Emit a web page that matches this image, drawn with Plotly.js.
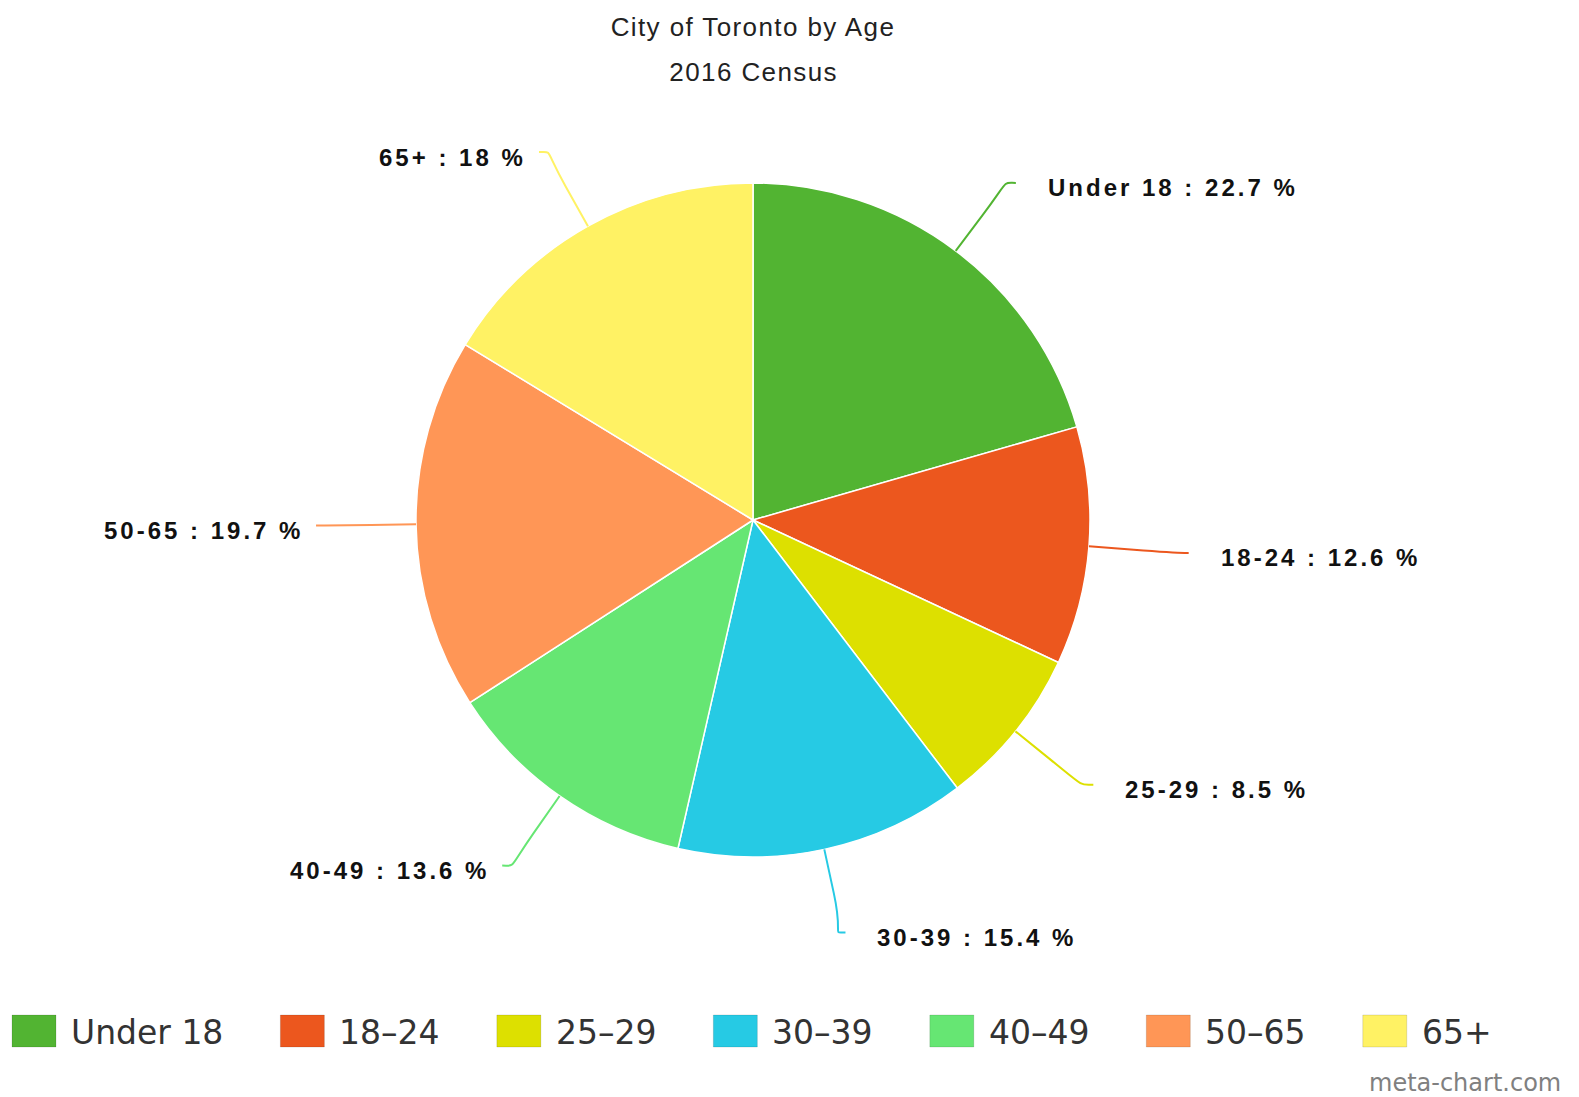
<!DOCTYPE html>
<html>
<head>
<meta charset="utf-8">
<script src="https://cdn.plot.ly/plotly-3.0.1.min.js"></script>
<style>
html, body { margin: 0; padding: 0; background: #ffffff; }
#chart { width: 1579px; height: 1097px; }
.gtitle { letter-spacing: 1.4px; }
.annotation[data-index="0"] .annotation-text,
.annotation[data-index="1"] .annotation-text,
.annotation[data-index="2"] .annotation-text,
.annotation[data-index="3"] .annotation-text,
.annotation[data-index="4"] .annotation-text,
.annotation[data-index="5"] .annotation-text,
.annotation[data-index="6"] .annotation-text { letter-spacing: 3px; }
.annotation[data-index="7"] .annotation-text { letter-spacing: 1.4px; }
</style>
</head>
<body>
<div id="chart"></div>
<script>
// ---- data ----
const categories = ['Under 18', '18-24', '25-29', '30-39', '40-49', '50-65', '65+'];
const legendLabels = ['Under 18', '18–24', '25–29', '30–39', '40–49', '50–65', '65+'];
const values = [22.7, 12.6, 8.5, 15.4, 13.6, 19.7, 18];
const colors = ['#52b432', '#ec571e', '#dde000', '#26cae4', '#66e673', '#ff9656', '#fff264'];
const titleText = 'City of Toronto by Age';
const subtitleText = '2016 Census';
const watermark = 'meta-chart.com';

// ---- layout constants ----
const W = 1579, H = 1097;
const CX = 753, CY = 520, R = 337;
const RX = 437, RY = 422, BREAK = 45, LS = 3;
const px = x => x / W;
const py = y => 1 - y / H;

const total = values.reduce((a, b) => a + b, 0);
const shapes = [];
const annotations = [];

// pie labels with connectors
let cum = 0;
values.forEach((v, i) => {
  const mid = (cum + v / 2) / total * 2 * Math.PI;
  cum += v;
  const ux = Math.sin(mid), uy = -Math.cos(mid);
  const touch = [CX + R * ux, CY + R * uy];
  const brk = [CX + (R + BREAK) * ux, CY + (R + BREAK) * uy];
  const c2 = [2 * brk[0] - touch[0], 2 * brk[1] - touch[1]];
  const lab = [CX + RX * ux, CY + RY * uy];
  const right = ux >= 0;
  const c1 = [lab[0] + (right ? -14 : 14), lab[1]];
  const P = p => px(p[0]) + ',' + py(p[1]);
  shapes.push({
    type: 'path', xref: 'paper', yref: 'paper',
    path: 'M' + P(lab) + ' C' + P(c1) + ' ' + P(c2) + ' ' + P(brk) + ' L' + P(touch),
    line: { color: colors[i], width: 2 }
  });
  const text = categories[i] + ' : ' + values[i] + ' %';
  annotations.push({
    xref: 'paper', yref: 'paper',
    x: px(right ? lab[0] + 30 : lab[0] - 14), y: py(lab[1] + 5),
    xanchor: right ? 'left' : 'right', yanchor: 'middle',
    xshift: right ? 0 : -(text.length - 1) * LS,
    align: 'left', showarrow: false, text: text,
    font: { family: 'Liberation Sans, Arial, sans-serif', size: 24, color: '#111111', weight: 'bold' }
  });
});

// subtitle
annotations.push({
  xref: 'paper', yref: 'paper', x: px(CX), y: py(72), xanchor: 'center', yanchor: 'middle',
  showarrow: false, text: subtitleText,
  font: { family: 'Liberation Sans, Arial, sans-serif', size: 26, color: '#222222' }
});

// custom legend
const ctx = document.createElement('canvas').getContext('2d');
const LFONT = 33;
ctx.font = LFONT + 'px "DejaVu Sans"';
let lx = 12;
legendLabels.forEach((c, i) => {
  shapes.push({
    type: 'rect', xref: 'paper', yref: 'paper',
    x0: px(lx), x1: px(lx + 44), y0: py(1047), y1: py(1015),
    fillcolor: colors[i], line: { color: 'rgba(0,0,0,0.12)', width: 1 }
  });
  annotations.push({
    xref: 'paper', yref: 'paper', x: px(lx + 57), y: py(1032), xanchor: 'left', yanchor: 'middle',
    showarrow: false, text: c,
    font: { family: 'DejaVu Sans, sans-serif', size: LFONT, color: '#333333' }
  });
  lx += 57 + ctx.measureText(c).width + 59;
});

// watermark
annotations.push({
  xref: 'paper', yref: 'paper', x: px(1563), y: py(1083), xanchor: 'right', yanchor: 'middle',
  showarrow: false, text: watermark,
  font: { family: 'DejaVu Sans, sans-serif', size: 24, color: '#808080' }
});

const trace = {
  type: 'pie',
  labels: categories,
  values: values,
  sort: false,
  direction: 'clockwise',
  rotation: 0,
  textinfo: 'none',
  hoverinfo: 'label+value',
  marker: { colors: colors, line: { color: '#ffffff', width: 1.5 } },
  domain: { x: [px(CX - R), px(CX + R)], y: [py(CY + R), py(CY - R)] },
  showlegend: false
};

const layout = {
  width: W, height: H,
  margin: { l: 0, r: 0, t: 0, b: 0 },
  paper_bgcolor: '#ffffff',
  plot_bgcolor: '#ffffff',
  showlegend: false,
  title: {
    text: titleText, x: px(CX), xanchor: 'center', y: py(27), yanchor: 'middle',
    font: { family: 'Liberation Sans, Arial, sans-serif', size: 26, color: '#222222' }
  },
  shapes: shapes,
  annotations: annotations
};

Plotly.newPlot('chart', [trace], layout, { displayModeBar: false, staticPlot: true });
</script>
</body>
</html>
